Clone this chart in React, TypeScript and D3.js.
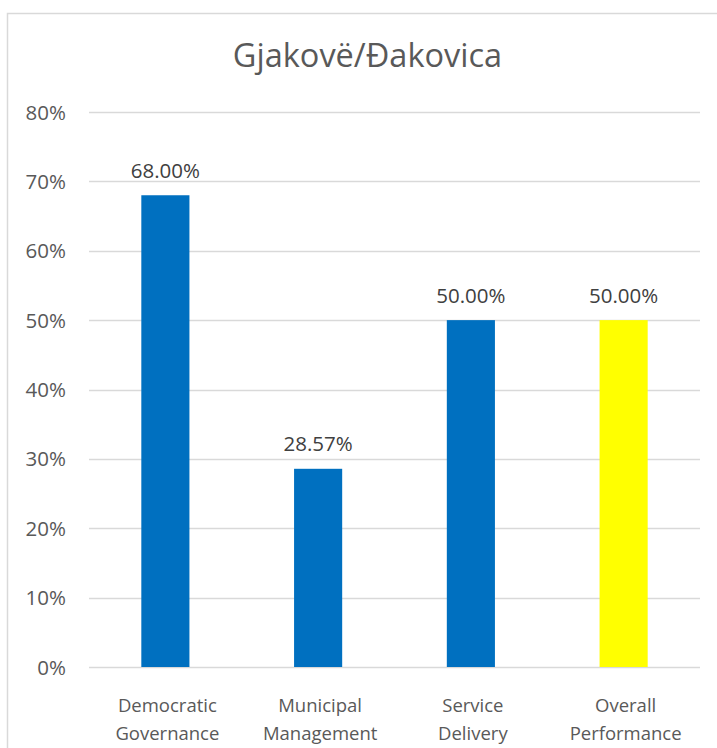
import React from "react";
import * as d3 from "d3";

const categories: string[][] = [
  ["Democratic", "Governance"],
  ["Municipal", "Management"],
  ["Service", "Delivery"],
  ["Overall", "Performance"],
];
const values: number[] = [0.68, 0.2857, 0.5, 0.5];
const barColors: string[] = ["#0070c0", "#0070c0", "#0070c0", "#ffff00"];
const yTicks: number[] = [0, 0.1, 0.2, 0.3, 0.4, 0.5, 0.6, 0.7, 0.8];
const title = "Gjakovë/Đakovica";

const W = 717;
const H = 748;
const FONT = "'Open Sans', 'Noto Sans', sans-serif";

export default function App() {
  const x = d3
    .scaleBand<number>()
    .domain(d3.range(categories.length))
    .range([89, 700])
    .paddingInner(0.685)
    .paddingOuter(0.3425);
  const y = d3.scaleLinear().domain([0, 0.8]).range([667, 112]);
  const fmtTick = d3.format(".0%");
  const fmtVal = d3.format(".2%");

  return (
    <svg
      width={W}
      height={H}
      style={{ position: "absolute", left: 0, top: 0, background: "#fff" }}
      fontFamily={FONT}
    >
      <rect x={7.5} y={13.5} width={715} height={760} fill="#fff" stroke="#d9d9d9" strokeWidth={1.5} />
      <text x={367.5} y={67} textAnchor="middle" fontSize={32.5} fill="#595959">
        {title}
      </text>
      {yTicks.map((t) => (
        <g key={t}>
          <line x1={89} x2={700} y1={Math.round(y(t)) + 0.5} y2={Math.round(y(t)) + 0.5} stroke="#d9d9d9" strokeWidth={1.5} />
          <text x={66} y={y(t) + 7.5} textAnchor="end" fontSize={20.5} fill="#595959">
            {fmtTick(t)}
          </text>
        </g>
      ))}
      {values.map((v, i) => {
        const bx = x(i)!;
        const bw = x.bandwidth();
        const cx = bx + bw / 2;
        return (
          <g key={i}>
            <rect x={bx} y={y(v)} width={bw} height={y(0) - y(v)} fill={barColors[i]} />
            <text x={cx} y={y(v) - 17.5} textAnchor="middle" fontSize={20.5} fill="#404040">
              {fmtVal(v)}
            </text>
            {categories[i].map((line, j) => (
              <text key={j} x={cx + 2} y={712 + j * 27.5} textAnchor="middle" fontSize={18.5} fill="#595959">
                {line}
              </text>
            ))}
          </g>
        );
      })}
    </svg>
  );
}
